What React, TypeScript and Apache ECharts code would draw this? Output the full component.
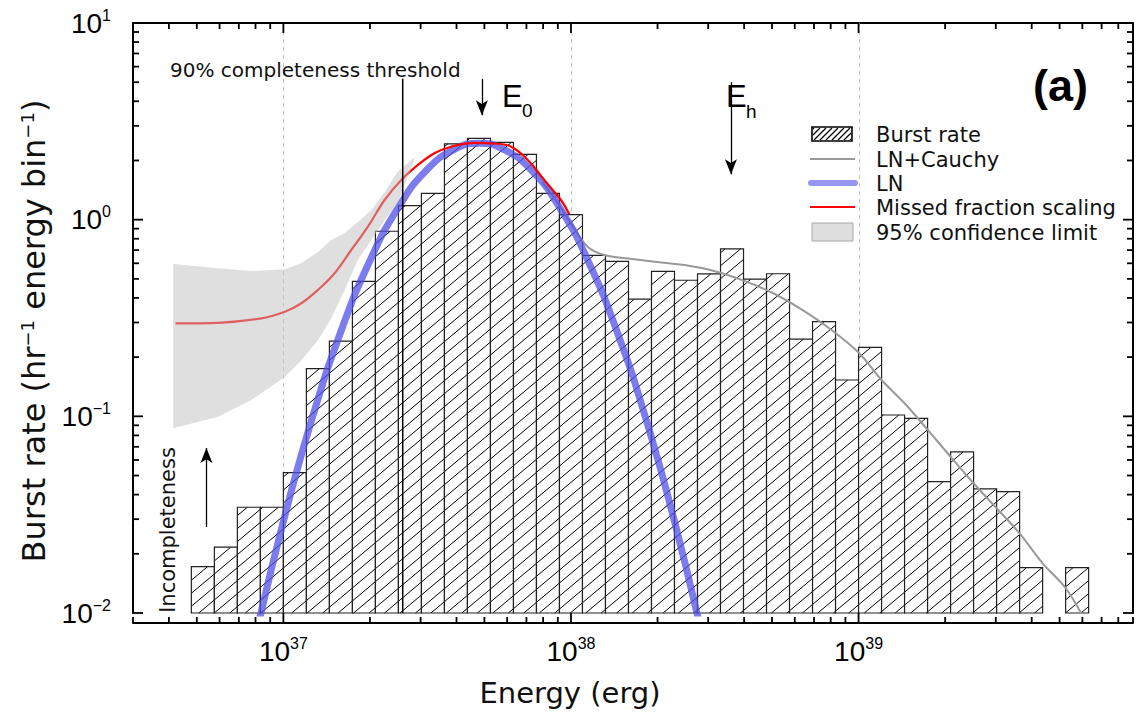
import React, { useEffect, useRef } from "react";
import * as echarts from "echarts";

// ---------------- data ----------------
// Histogram bins: lower edge as log10(E / erg); every bin is 0.08 dex wide
const binLowerLogE = [
  36.68, 36.76, 36.84, 36.92, 37.0, 37.08, 37.16, 37.24, 37.32, 37.4,
  37.48, 37.56, 37.64, 37.72, 37.8, 37.88, 37.96, 38.04, 38.12, 38.2,
  38.28, 38.36, 38.44, 38.52, 38.6, 38.68, 38.76, 38.84, 38.92, 39.0,
  39.08, 39.16, 39.24, 39.32, 39.4, 39.48, 39.56, 39.64, 39.72,
];
const binWidthDex = 0.08;
const burstRate = [
  0.0172, 0.0216, 0.0345, 0.0345, 0.0517, 0.175, 0.241, 0.486, 0.873, 1.18,
  1.36, 2.43, 2.59, 2.47, 2.15, 1.36, 1.06, 0.659, 0.614, 0.394,
  0.546, 0.492, 0.53, 0.711, 0.498, 0.531, 0.247, 0.303, 0.153, 0.224,
  0.1016, 0.0977, 0.0466, 0.0659, 0.0428, 0.0414, 0.017, 0, 0.017,
];

// LN fit
const lnLogE = [36.9, 37.0, 37.1, 37.2, 37.3, 37.4, 37.5, 37.6, 37.68, 37.76, 37.86, 37.96, 38.06, 38.16, 38.26, 38.36, 38.46];
const lnRate = [0.00723, 0.0292, 0.0977, 0.27, 0.615, 1.156, 1.8, 2.3, 2.45, 2.3, 1.8, 1.156, 0.615, 0.27, 0.0977, 0.0292, 0.00723];

// LN + Cauchy fit
const lncLogE = [37.9, 37.95, 38.0, 38.058, 38.116, 38.2, 38.3, 38.4, 38.5, 38.6, 38.7, 38.8, 38.9, 39.0, 39.08, 39.16, 39.24, 39.32, 39.4, 39.48, 39.56, 39.64, 39.72, 39.78];
const lncRate = [1.55, 1.24, 0.958, 0.729, 0.661, 0.634, 0.61, 0.586, 0.547, 0.49, 0.425, 0.351, 0.279, 0.211, 0.153, 0.1165, 0.0855, 0.0623, 0.0457, 0.0341, 0.0254, 0.0179, 0.0134, 0.0096];

// Missed fraction scaling
const missedLogE = [36.625, 36.773, 36.924, 37.005, 37.0625, 37.12, 37.178, 37.236, 37.294, 37.352, 37.41, 37.468, 37.525, 37.583, 37.664, 37.734, 37.792, 37.85, 37.907, 37.965, 37.994];
const missedRate = [0.297, 0.299, 0.315, 0.34, 0.376, 0.439, 0.534, 0.701, 0.921, 1.259, 1.591, 1.897, 2.175, 2.35, 2.46, 2.44, 2.35, 2.01, 1.59, 1.259, 1.065];

// 95% confidence limit band
const bandLogE = [36.617, 36.773, 36.889, 37.005, 37.0625, 37.12, 37.167, 37.213, 37.259, 37.306, 37.352, 37.398, 37.455];
const bandLow = [0.0869, 0.0996, 0.121, 0.159, 0.193, 0.244, 0.316, 0.439, 0.624, 0.788, 0.996, 1.22, 2.0];
const bandHigh = [0.595, 0.566, 0.548, 0.559, 0.602, 0.685, 0.788, 0.855, 0.973, 1.12, 1.38, 1.75, 2.07];

// annotations
const thresholdE = 2.6e37;
const thresholdTop = 5.2;
const e0Energy = 4.9e37;
const e0Arrow = [5.2, 3.4];
const ehEnergy = 3.6e38;
const ehArrow = [5.0, 1.7];
const incompEnergy = 5.4e36;
const incompArrow = [0.0274, 0.069];

// axes
const X_MIN = 3e36;
const X_MAX = 9e39;
const Y_MIN = 0.01;
const Y_MAX = 10;
const xTickExponents = [37, 38, 39];
const yTickExponents = [-2, -1, 0, 1];

const legendNames = ["Burst rate", "LN+Cauchy", "LN", "Missed fraction scaling", "95% confidence limit"];

// ---------------- helpers ----------------
const FONT = '"Liberation Sans", Arial, sans-serif';
const FONT_WIDE = '"DejaVu Sans", "Liberation Sans", sans-serif';
const X_AXIS_OFFSET = 10;

const pow10 = (e: number) => Math.pow(10, e);
const toPairs = (logE: number[], vals: number[]) => logE.map((e, i) => [pow10(e), vals[i]]);

const expLabel = (allowed: number[]) => (v: number) => {
  const e = Math.log10(v);
  const r = Math.round(e);
  if (Math.abs(e - r) > 1e-6 || allowed.indexOf(r) < 0) return "";
  return `{b|10}{s|${r < 0 ? "\u2212" + -r : r}}`;
};

const tickRich = {
  b: { fontSize: 28, fontFamily: FONT, color: "#000", lineHeight: 32 },
  s: { fontSize: 16, fontFamily: FONT, color: "#000", lineHeight: 17, verticalAlign: "top" },
};

function hatch(x0: number, y0: number, x1: number, y1: number, s: number, m: number, style: any) {
  const out: any[] = [];
  const cMin = m * x0 + y0;
  const cMax = m * x1 + y1;
  for (let c = Math.ceil(cMin / s) * s; c <= cMax; c += s) {
    const xa = Math.max(x0, (c - y1) / m);
    const xb = Math.min(x1, (c - y0) / m);
    if (xb - xa > 0.3) {
      out.push({ type: "line", shape: { x1: xa, y1: c - m * xa, x2: xb, y2: c - m * xb }, style: { ...style } });
    }
  }
  return out;
}

const xMajor = xTickExponents.map(pow10);
const yMajor = yTickExponents.map(pow10);
const xMinor: number[] = [];
for (let n = 36; n <= 39; n++) {
  for (let k = 2; k <= 9; k++) {
    const v = k * Math.pow(10, n);
    if (v >= X_MIN * 0.999 && v <= X_MAX * 1.001) xMinor.push(v);
  }
}
const yMinor: number[] = [];
for (let n = -2; n <= 0; n++) {
  for (let k = 2; k <= 9; k++) yMinor.push(k * Math.pow(10, n));
}

function baseGraphic(): any[] {
  const legendX = 810;
  const legendTextX = 876;
  const rowY = [134, 159, 183, 207, 232];
  const legendHatch = hatch(813, 128, 851, 140, 6, 1, { stroke: "#000", lineWidth: 1.3 });
  return [
    { type: "rect", shape: { x: 812, y: 127, width: 40, height: 14 }, style: { fill: "#fff", stroke: "none" }, z: 100 },
    ...legendHatch.map((l) => ({ ...l, z: 101 })),
    { type: "rect", shape: { x: 812, y: 127, width: 40, height: 14 }, style: { fill: "none", stroke: "#000", lineWidth: 1.6 }, z: 102 },
    { type: "line", shape: { x1: legendX, y1: rowY[1], x2: legendX + 45, y2: rowY[1] }, style: { stroke: "#999", lineWidth: 2 }, z: 100 },
    { type: "line", shape: { x1: legendX + 1, y1: rowY[2], x2: legendX + 45, y2: rowY[2] }, style: { stroke: "#5050e8", lineWidth: 6, lineCap: "round", opacity: 0.6 }, z: 100 },
    { type: "line", shape: { x1: legendX, y1: rowY[3], x2: legendX + 45, y2: rowY[3] }, style: { stroke: "#ff0000", lineWidth: 2 }, z: 100 },
    { type: "rect", shape: { x: 812, y: 223, width: 41, height: 18 }, style: { fill: "#dedede", stroke: "#a8a8a8", lineWidth: 1 }, z: 100 },
    ...legendNames.map((t, i) => ({
      type: "text",
      x: legendTextX,
      y: rowY[i] + 1,
      z: 100,
      style: { text: t, fontSize: 21, fontFamily: FONT_WIDE, fill: "#111", align: "left", verticalAlign: "middle" },
    })),
    {
      type: "text", x: 170, y: 70, z: 100,
      style: { text: "90% completeness threshold", fontSize: 20, fontFamily: FONT_WIDE, fill: "#111", align: "left", verticalAlign: "middle" },
    },
    {
      type: "text", x: 168, y: 530, rotation: Math.PI / 2, z: 100,
      style: { text: "Incompleteness", fontSize: 21, fontFamily: FONT_WIDE, fill: "#111", align: "center", verticalAlign: "middle" },
    },
    { type: "text", x: 502, y: 96, z: 100, style: { text: "E", fontSize: 31, fontFamily: FONT, fill: "#000", align: "left", verticalAlign: "middle" } },
    { type: "text", x: 522, y: 110, z: 100, style: { text: "0", fontSize: 19, fontFamily: FONT, fill: "#000", align: "left", verticalAlign: "middle" } },
    { type: "text", x: 726, y: 96, z: 100, style: { text: "E", fontSize: 31, fontFamily: FONT, fill: "#000", align: "left", verticalAlign: "middle" } },
    { type: "text", x: 746, y: 111, z: 100, style: { text: "h", fontSize: 19, fontFamily: FONT, fill: "#000", align: "left", verticalAlign: "middle" } },
    {
      type: "text", x: 1033, y: 85, z: 100,
      style: { text: "(a)", fontSize: 45, fontWeight: "bold", fontFamily: FONT, fill: "#000", align: "left", verticalAlign: "middle" },
    },
  ];
}

function buildOption(): any {
  const barData = binLowerLogE.map((e, i) => [pow10(e), pow10(e + binWidthDex), burstRate[i]]);
  const hatchStyle = { stroke: "#000", lineWidth: 1 };
  const axisLineStyle = { color: "#000", width: 2 };

  return {
    animation: false,
    backgroundColor: "#fff",
    grid: { left: 133, right: 4, top: 23, bottom: 107, containLabel: false, outerBoundsMode: "none" },
    xAxis: [
      {
        type: "log",
        logBase: 10,
        min: X_MIN,
        max: X_MAX,
        position: "bottom",
        offset: X_AXIS_OFFSET,
        axisLine: { show: true, lineStyle: axisLineStyle },
        axisTick: { show: false },
        minorTick: { show: false },
        splitLine: { show: false },
        axisLabel: { margin: 12, formatter: expLabel(xTickExponents), rich: tickRich },
        name: "Energy (erg)",
        nameLocation: "middle",
        nameGap: 55,
        nameTextStyle: { fontSize: 29, fontFamily: FONT_WIDE, color: "#111", padding: [0, 126, 0, 0] },
      },
      {
        type: "log",
        logBase: 10,
        min: X_MIN,
        max: X_MAX,
        position: "top",
        axisLine: { show: true, lineStyle: axisLineStyle },
        axisTick: { show: false },
        axisLabel: { show: false },
        splitLine: { show: false },
      },
    ],
    yAxis: [
      {
        type: "log",
        logBase: 10,
        min: Y_MIN,
        max: Y_MAX,
        position: "left",
        axisLine: { show: true, lineStyle: axisLineStyle },
        axisTick: { show: false },
        minorTick: { show: false },
        splitLine: { show: false },
        axisLabel: { margin: 22, formatter: expLabel(yTickExponents), rich: tickRich },
        name: "Burst rate (hr{s|\u22121} energy bin{s|\u22121})",
        nameLocation: "middle",
        nameRotate: 90,
        nameGap: 83,
        nameTextStyle: {
          fontSize: 32,
          fontFamily: FONT_WIDE,
          color: "#111",
          padding: [0, 26, 0, 0],
          rich: { s: { fontSize: 18, fontFamily: FONT_WIDE, color: "#111", verticalAlign: "top" } },
        },
      },
      {
        type: "log",
        logBase: 10,
        min: Y_MIN,
        max: Y_MAX,
        position: "right",
        axisLine: { show: true, lineStyle: axisLineStyle },
        axisTick: { show: false },
        axisLabel: { show: false },
        splitLine: { show: false },
      },
    ],
    series: [
      // dashed grid lines at decades
      {
        type: "custom",
        name: "grid",
        silent: true,
        z: 1,
        data: [[X_MIN, Y_MIN]],
        renderItem: (params: any, api: any) => {
          const cs = params.coordSys;
          return {
            type: "group",
            children: xMajor.map((v) => {
              const px = Math.round(api.coord([v, Y_MIN])[0]) + 0.5;
              return {
                type: "line",
                shape: { x1: px, y1: cs.y, x2: px, y2: cs.y + cs.height },
                style: { stroke: "#c4c4c4", lineWidth: 1, lineDash: [4, 4] },
              };
            }),
          };
        },
      },
      // histogram bars
      {
        type: "custom",
        name: "Burst rate",
        z: 2,
        encode: { x: [0, 1], y: 2 },
        data: barData,
        renderItem: (params: any, api: any) => {
          const v = api.value(2);
          if (!(v > 0)) return null;
          const p0 = api.coord([api.value(0), v]);
          const p1 = api.coord([api.value(1), Y_MIN]);
          const x0 = p0[0], y0 = p0[1], x1 = p1[0], y1 = p1[1];
          return {
            type: "group",
            children: [
              { type: "rect", shape: { x: x0, y: y0, width: x1 - x0, height: y1 - y0 }, style: { fill: "#fff", stroke: "none" } },
              ...hatch(x0, y0, x1, y1, 13, 0.84, hatchStyle),
              { type: "rect", shape: { x: x0, y: y0, width: x1 - x0, height: y1 - y0 }, style: { fill: "none", stroke: "#222", lineWidth: 1.2 } },
            ],
          };
        },
      },
      {
        type: "line",
        name: "LN+Cauchy",
        z: 3,
        data: toPairs(lncLogE, lncRate),
        smooth: 0.35,
        showSymbol: false,
        silent: true,
        lineStyle: { color: "#999", width: 2 },
      },
      {
        type: "line",
        name: "LN",
        z: 4,
        data: toPairs(lnLogE, lnRate),
        smooth: 0.5,
        showSymbol: false,
        silent: true,
        lineStyle: { color: "#5050e8", width: 7, opacity: 0.75 },
      },
      {
        type: "line",
        name: "Missed fraction scaling",
        z: 5,
        data: toPairs(missedLogE, missedRate),
        smooth: 0.4,
        showSymbol: false,
        silent: true,
        lineStyle: { color: "#ff0000", width: 2.2 },
      },
      // confidence band
      {
        type: "custom",
        name: "95% confidence limit",
        z: 6,
        silent: true,
        data: [[X_MIN, Y_MIN]],
        renderItem: (params: any, api: any) => {
          const pts: number[][] = [];
          for (let i = 0; i < bandLogE.length; i++) pts.push(api.coord([pow10(bandLogE[i]), bandHigh[i]]));
          for (let i = bandLogE.length - 1; i >= 0; i--) pts.push(api.coord([pow10(bandLogE[i]), bandLow[i]]));
          return { type: "polygon", shape: { points: pts }, style: { fill: "rgba(192,192,192,0.5)", stroke: "none" } };
        },
      },
      // threshold line + arrows
      {
        type: "line",
        name: "threshold",
        z: 7,
        silent: true,
        data: [
          [thresholdE, Y_MIN],
          [thresholdE, thresholdTop],
        ],
        showSymbol: false,
        lineStyle: { color: "#000", width: 1.5 },
        markLine: {
          silent: true,
          symbol: ["none", "arrow"],
          symbolSize: [9, 15],
          label: { show: false },
          lineStyle: { color: "#000", width: 1.3, type: "solid" },
          data: [
            [{ coord: [e0Energy, e0Arrow[0]] }, { coord: [e0Energy, e0Arrow[1]] }],
            [{ coord: [ehEnergy, ehArrow[0]] }, { coord: [ehEnergy, ehArrow[1]] }],
            [{ coord: [incompEnergy, incompArrow[0]] }, { coord: [incompEnergy, incompArrow[1]] }],
          ],
        },
      },
      // inward ticks (major + minor) on all four sides
      {
        type: "custom",
        name: "ticks",
        silent: true,
        clip: false,
        z: 30,
        data: [[X_MIN, Y_MIN]],
        renderItem: (params: any, api: any) => {
          const cs = params.coordSys;
          const left = cs.x;
          const right = cs.x + cs.width;
          const top = cs.y;
          const xAxisY = cs.y + cs.height + X_AXIS_OFFSET;
          const children: any[] = [];
          const seg = (a: number, b: number, c: number, d: number) => {
            children.push({
              type: "line",
              shape: { x1: a, y1: b, x2: c, y2: d },
              style: { stroke: "#000", lineWidth: 1.8, fill: null },
            });
          };
          const addX = (v: number, len: number) => {
            const px = api.coord([v, Y_MIN])[0];
            seg(px, xAxisY, px, xAxisY - len);
            seg(px, top, px, top + len);
          };
          const addY = (v: number, len: number) => {
            const py = api.coord([X_MIN, v])[1];
            seg(left, py, left + len, py);
            seg(right, py, right - len, py);
          };
          xMajor.forEach((v) => addX(v, 10));
          xMinor.forEach((v) => addX(v, 6));
          yMajor.forEach((v) => addY(v, 10));
          yMinor.forEach((v) => addY(v, 6));
          return { type: "group", children };
        },
      },
    ],
    graphic: baseGraphic(),
  };
}

export default function App() {
  const ref = useRef<HTMLDivElement>(null);
  useEffect(() => {
    if (!ref.current) return;
    const chart = echarts.init(ref.current, null, { renderer: "svg" });
    chart.setOption(buildOption());
    return () => chart.dispose();
  }, []);
  return <div ref={ref} style={{ position: "absolute", left: 0, top: 0, width: 1137, height: 720, background: "#fff" }} />;
}
